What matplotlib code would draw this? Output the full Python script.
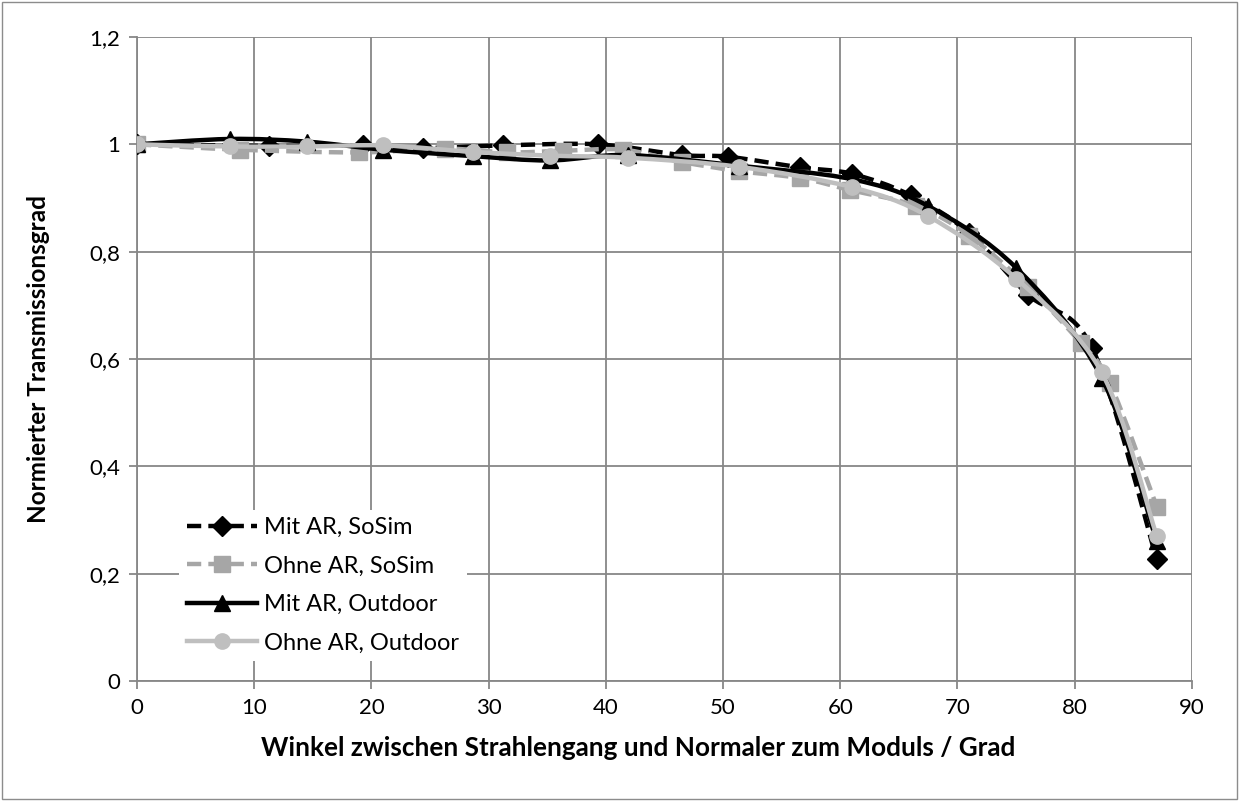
import numpy as np
import matplotlib.pyplot as plt
from matplotlib.path import Path
from matplotlib.patches import PathPatch, Rectangle
from matplotlib.lines import Line2D

plt.rcParams['font.family'] = ['Lato', 'DejaVu Sans']

# Messwerte / Simulationswerte
winkel_mit_sosim = [0, 11.3, 19.3, 24.4, 31.2, 39.3, 46.5, 50.4, 56.6, 61, 66, 71, 76, 81.5, 87]
mit_sosim = [1.0, 0.997, 0.998, 0.993, 0.998, 1.0, 0.98, 0.977, 0.957, 0.945, 0.905, 0.835, 0.72, 0.62, 0.227]

winkel_ohne_sosim = [0, 8.8, 18.9, 26.3, 31.6, 36.3, 41.5, 46.5, 51.4, 56.6, 60.8, 66.5, 71, 76, 80.5, 83, 87]
ohne_sosim = [1.0, 0.99, 0.985, 0.992, 0.985, 0.988, 0.99, 0.967, 0.95, 0.937, 0.915, 0.885, 0.83, 0.735, 0.63, 0.555, 0.325]

winkel_outdoor = [0, 7.9, 14.5, 21, 28.7, 35.2, 41.9, 51.4, 61, 67.5, 75, 82.3, 87]
mit_outdoor = [1.0, 1.01, 1.005, 0.99, 0.978, 0.97, 0.98, 0.96, 0.935, 0.885, 0.77, 0.565, 0.26]
ohne_outdoor = [1.0, 0.996, 0.996, 0.998, 0.986, 0.979, 0.975, 0.958, 0.92, 0.866, 0.75, 0.575, 0.27]

xticks = [0, 10, 20, 30, 40, 50, 60, 70, 80, 90]
yticks = [0, 0.2, 0.4, 0.6, 0.8, 1.0, 1.2]
ylabels = ['0', '0,2', '0,4', '0,6', '0,8', '1', '1,2']

schwarz = '#000000'
grau = '#a6a6a6'
grau_hell = '#bfbfbf'


def glatte_kurve(x, y):
    # Bezier-Glaettung wie bei Excel (Catmull-Rom)
    p = np.column_stack([x, y]).astype(float)
    verts = [p[0]]
    codes = [Path.MOVETO]
    n = len(p)
    for i in range(n - 1):
        p0 = p[i - 1] if i > 0 else p[i]
        p1 = p[i]
        p2 = p[i + 1]
        p3 = p[i + 2] if i + 2 < n else p[i + 1]
        c1 = p1 + (p2 - p0) / 6.0
        c2 = p2 - (p3 - p1) / 6.0
        verts += [c1, c2, p2]
        codes += [Path.CURVE4] * 3
    return Path(verts, codes)


fig = plt.figure(figsize=(12.39, 8.01), dpi=100)
ax = fig.add_axes([0.1106, 0.1498, 0.8514, 0.804])

serien = [
    (winkel_mit_sosim, mit_sosim, schwarz, (0, (3.2, 1.6)), 'D', 10, schwarz, 'Mit AR, SoSim'),
    (winkel_ohne_sosim, ohne_sosim, grau, (0, (3.2, 1.6)), 's', 12, grau, 'Ohne AR, SoSim'),
    (winkel_outdoor, mit_outdoor, schwarz, '-', '^', 11, schwarz, 'Mit AR, Outdoor'),
    (winkel_outdoor, ohne_outdoor, grau_hell, '-', 'o', 11, grau_hell, 'Ohne AR, Outdoor'),
]

handles = []
for i, (x, y, farbe, ls, m, ms, mfarbe, name) in enumerate(serien):
    z = 3 + 2 * i
    patch = PathPatch(glatte_kurve(x, y), facecolor='none', edgecolor=farbe,
                      lw=3.2, linestyle=ls, zorder=z, capstyle='butt')
    ax.add_patch(patch)
    ax.plot(x, y, linestyle='none', marker=m, ms=ms, color=mfarbe,
            markeredgecolor=mfarbe, zorder=z + 1)
    handles.append(Line2D([], [], color=farbe, lw=3.2, linestyle=ls, marker=m,
                          ms=ms, markerfacecolor=mfarbe, markeredgecolor=mfarbe,
                          label=name))

ax.set_xlim(0, 90)
ax.set_ylim(0, 1.2)
ax.set_xticks(xticks)
ax.set_yticks(yticks)
ax.set_yticklabels(ylabels)
ax.grid(True, color='#878787', lw=1.3)
ax.set_axisbelow(True)
for s in ['top', 'right']:
    ax.spines[s].set_visible(False)
for s in ['left', 'bottom']:
    ax.spines[s].set_color('#878787')
    ax.spines[s].set_linewidth(1.3)
ax.tick_params(axis='both', direction='out', length=6, width=1.3, color='#878787',
               labelsize=16, pad=6)

ax.set_xlabel('Winkel zwischen Strahlengang und Normaler zum Moduls / Grad',
              fontsize=18.8, fontweight='bold', labelpad=13)
ax.xaxis.label.set_x(0.475)
ax.set_ylabel('Normierter Transmissionsgrad', fontsize=17.5, fontweight='bold',
              labelpad=28)

leg = ax.legend(handles=handles, loc='upper left', bbox_to_anchor=(0.029, 0.284),
                fontsize=17, frameon=True, framealpha=1, edgecolor='none',
                fancybox=False, handlelength=3.0, handletextpad=0.3,
                labelspacing=0.74, borderpad=0.3)
leg.set_zorder(20)

fig.patches.append(Rectangle((0.002, 0.002), 0.996, 0.996, transform=fig.transFigure,
                             fill=False, edgecolor='#8c8c8c', lw=1))

plt.savefig('out.png', dpi=100)
